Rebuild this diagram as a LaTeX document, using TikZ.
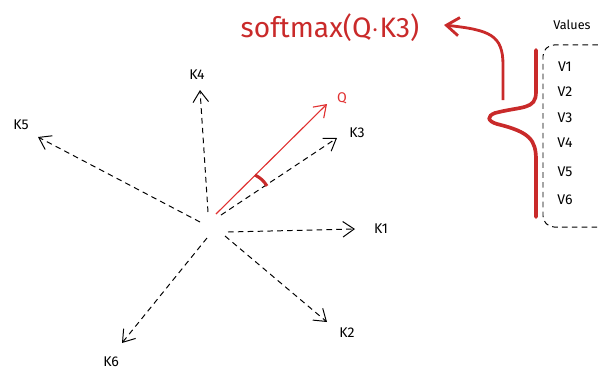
\documentclass[tikz,border=0pt]{standalone}
\usepackage{tikz}
\usetikzlibrary{arrows.meta,positioning}
\usepackage{xcolor}
\usepackage{fontspec}
\setmainfont{Fira Sans}
\definecolor{RedSketch}{RGB}{201,42,42}
\definecolor{RedLight}{RGB}{224,49,49}

\begin{document}
\begin{tikzpicture}[x=0.025cm, y=-0.025cm,
    key/.style={dashed, dash pattern=on 4pt off 3pt, line width=0.7pt, -{Straight Barb[length=8pt, width=11pt]}},
    lbl/.style={font=\normalsize, inner sep=1pt},
    val/.style={font=\normalsize, inner sep=1pt},
    qarr/.style={RedLight, line width=0.8pt, -{Straight Barb[length=8pt, width=11pt]}},
    brace/.style={RedSketch, line width=2.6pt, line cap=round},
    curl/.style={RedSketch, line width=2pt, -{Straight Barb[length=9pt, width=13pt]}}
]
    \useasboundingbox (0,0) rectangle (600,370);
    \clip (0,0) rectangle (600,370);

    % keys around the origin
    \coordinate (o4s) at (208,212); \coordinate (k4t) at (200,90);
    \coordinate (o5s) at (200,222); \coordinate (k5t) at (38,137);
    \coordinate (o3s) at (221,215); \coordinate (k3t) at (337,138);
    \coordinate (o1s) at (228,232); \coordinate (k1t) at (355,229);
    \coordinate (o2s) at (225,236); \coordinate (k2t) at (327,322);
    \coordinate (o6s) at (207,238); \coordinate (k6t) at (122,343);

    \node[lbl] (k4) at (197,75)  {K4};
    \node[lbl] (k5) at (21,125)  {K5};
    \node[lbl] (k3) at (357,133) {K3};
    \node[lbl] (k1) at (381,229) {K1};
    \node[lbl] (k2) at (347,333) {K2};
    \node[lbl] (k6) at (111,362) {K6};

    \draw[key] (o4s) -- (k4t);
    \draw[key] (o5s) -- (k5t);
    \draw[key] (o3s) -- (k3t);
    \draw[key] (o1s) -- (k1t);
    \draw[key] (o2s) -- (k2t);
    \draw[key] (o6s) -- (k6t);

    % query
    \coordinate (qs) at (216,214); \coordinate (qt) at (327,104);
    \node[lbl, text=RedLight] (q) at (342,98) {Q};
    \draw[qarr] (qs) -- (qt);
    \draw[RedSketch, line width=2.2pt] (255,175) to[bend left=15] (267,186);

    % softmax and values
    \node[font=\fontsize{20}{24}\selectfont, text=RedSketch, inner sep=0pt] (soft) at (330,28) {softmax(Q$\cdot$K3)};
    \node[font=\small] (vals) at (572,25) {Values};
    \node[draw, dashed, dash pattern=on 4pt off 3pt, rounded corners=8pt, line width=0.7pt,
          minimum width=1.9cm, minimum height=4.55cm] (vbox) at (581,136) {};
    \node[val] (v1) at (565,67)  {V1};
    \node[val] (v2) at (565,92)  {V2};
    \node[val] (v3) at (565,118) {V3};
    \node[val] (v4) at (565,143) {V4};
    \node[val] (v5) at (565,172) {V5};
    \node[val] (v6) at (565,200) {V6};

    \draw[brace] (536,50) -- (536,92) .. controls (536,110) and (522,106) .. (495,113)
        .. controls (487,116) and (487,121) .. (497,124)
        .. controls (530,132) and (536,140) .. (536,160) -- (536,217);
    \coordinate (bt) at (503,100);
    \draw[curl] (bt) -- (503,65) .. controls (503,35) and (490,30) .. (444,25);
\end{tikzpicture}
\end{document}
